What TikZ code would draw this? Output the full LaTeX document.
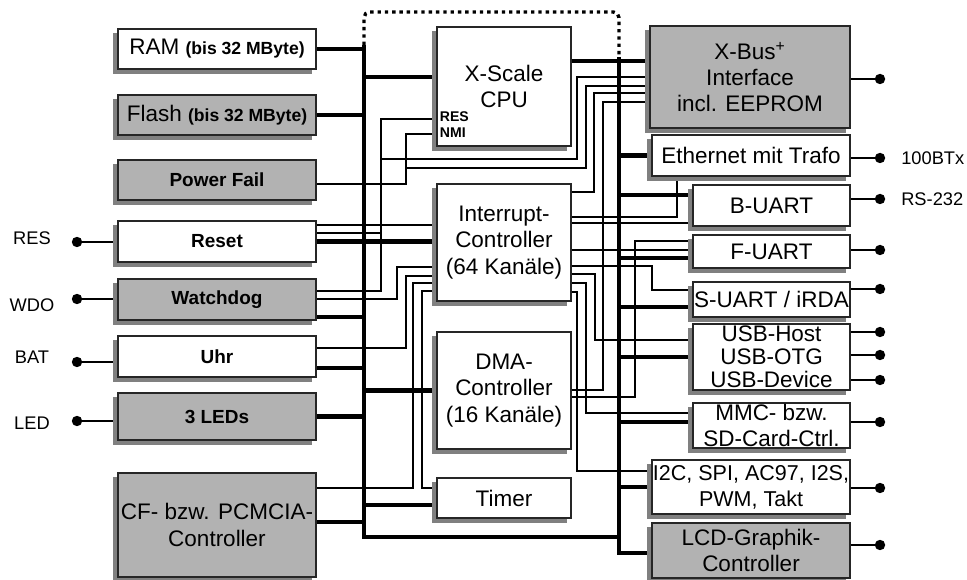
\documentclass[tikz,border=0pt]{standalone}
\usepackage{fontspec}
\setmainfont{Liberation Sans}
\usetikzlibrary{backgrounds}
\pgfdeclarelayer{shade}
\pgfsetlayers{background,shade,main}
\tikzset{
  xsbox/.style={draw=black!85, line width=0.8pt, fill=white, align=center, inner sep=1pt,
    font=\fontsize{16}{19}\selectfont},
  xsgray/.style={xsbox, fill=black!30},
  xsbold/.style={font=\fontsize{13.5}{15}\selectfont\bfseries},
  xsshadow/.style={fill=black!50},
  xsbus/.style={line width=3.5pt},
  xswire/.style={line width=1.2pt},
  xsdots/.style={line width=2.4pt, dash pattern=on 2.4pt off 2.8pt, rounded corners=4pt},
  xsdot/.style={circle, fill=black, inner sep=0pt, minimum size=2.6mm},
  xsport/.style={font=\fontsize{13}{15}\selectfont, inner sep=0pt},
  xspin/.style={font=\fontsize{10}{11}\selectfont\bfseries, inner sep=0pt, anchor=west}
}
\newcommand{\xssmall}{\fontsize{12.5}{14}\selectfont\bfseries}

\begin{document}
\begin{tikzpicture}[x=0.25mm, y=-0.25mm]
  \useasboundingbox (0,0) rectangle (967,580);

  % left column
  \node[xsbox, minimum width=49.5mm, minimum height=10mm] (ram) at (217,49) {RAM {\xssmall (bis 32 MByte)}};
  \node[xsgray, minimum width=49.5mm, minimum height=10mm] (flash) at (217,115) {Flash {\xssmall (bis 32 MByte)}};
  \node[xsgray, xsbold, minimum width=49.5mm, minimum height=10mm] (pwrfail) at (217,180) {Power Fail};
  \node[xsbox, xsbold, minimum width=49.5mm, minimum height=10.25mm] (reset) at (217,241.5) {Reset};
  \node[xsgray, xsbold, minimum width=49.5mm, minimum height=10.25mm] (wdog) at (217,299.5) {Watchdog};
  \node[xsbox, xsbold, minimum width=49.5mm, minimum height=10.25mm] (uhr) at (217,356.5) {Uhr};
  \node[xsgray, xsbold, minimum width=49.5mm, minimum height=11.75mm] (leds) at (217,416.5) {3 LEDs};
  \node[xsgray, minimum width=49.5mm, minimum height=26mm] (cfctl) at (217,525) {CF- bzw. PCMCIA-\\Controller};

  % middle column
  \node[xsbox, minimum width=33.5mm, minimum height=29.75mm] (cpu) at (504,86.5) {X-Scale\\CPU};
  \node[xspin] (respin) at ([xshift=0.8mm]cpu.west |- 0,117) {RES};
  \node[xspin] (nmipin) at ([xshift=0.8mm]cpu.west |- 0,133) {NMI};
  \node[xsbox, minimum width=33.5mm, minimum height=29.25mm] (irq) at (504,242.5) {Interrupt-\\Controller\\(64 Kanäle)};
  \node[xsbox, minimum width=33.5mm, minimum height=29.25mm] (dma) at (504,390.5) {DMA-\\Controller\\(16 Kanäle)};
  \node[xsbox, minimum width=33.5mm, minimum height=10mm] (timer) at (504,498) {Timer};

  % right column
  \node[xsgray, minimum width=50mm, minimum height=25.5mm, font=\fontsize{16}{18.5}\selectfont] (xbus) at (750,77) {X-Bus\textsuperscript{+}\\Interface\\incl. EEPROM};
  \node[xsbox, minimum width=49.5mm, minimum height=10.25mm] (ether) at (751,155.5) {Ethernet mit Trafo};
  \node[xsbox, minimum width=39.25mm, minimum height=10.25mm] (buart) at (771.5,205.5) {B-UART};
  \node[xsbox, minimum width=39.25mm, minimum height=8.25mm] (fuart) at (771.5,251.5) {F-UART};
  \node[xsbox, minimum width=39.25mm, minimum height=8.75mm, inner sep=0pt] (suart) at (771.5,299.5) {S-UART / iRDA};
  \node[xsbox, minimum width=39.25mm, minimum height=16.5mm, inner sep=0pt, font=\fontsize{16}{16.5}\selectfont] (usb) at (771.5,357) {USB-Host\\USB-OTG\\USB-Device};
  \node[xsbox, minimum width=39.25mm, minimum height=11.25mm, inner sep=0pt, font=\fontsize{16}{18}\selectfont] (mmc) at (771.5,425.5) {MMC- bzw.\\SD-Card-Ctrl.};
  \node[xsbox, minimum width=49.5mm, minimum height=13.5mm, inner sep=0pt, font=\fontsize{15.3}{18.5}\selectfont] (serio) at (751,487) {I2C, SPI, AC97, I2S,\\PWM, Takt};
  \node[xsgray, minimum width=49.5mm, minimum height=13.75mm] (lcd) at (751,550.5) {LCD-Graphik-\\Controller};

  % shadows behind the boxes
  \begin{pgfonlayer}{shade}
    \foreach \b in {ram,flash,pwrfail,reset,wdog,uhr,leds,cfctl,cpu,irq,dma,timer,
                    xbus,ether,buart,fuart,suart,usb,mmc,serio,lcd}
      \fill[xsshadow] ([shift={(-1.1mm,-1.1mm)}]\b.south west) rectangle ([shift={(-1.1mm,-1.1mm)}]\b.north east);
  \end{pgfonlayer}

  % external pins
  \node[xsdot] (resdot) at (77,242) {};
  \node[xsdot] (wdodot) at (77,299) {};
  \node[xsdot] (batdot) at (77,362) {};
  \node[xsdot] (leddot) at (77,421) {};
  \node[xsport] (reslbl) at (32,238) {RES};
  \node[xsport] (wdolbl) at (32,305) {WDO};
  \node[xsport] (batlbl) at (32,357) {BAT};
  \node[xsport] (ledlbl) at (32,423) {LED};

  \node[xsdot] (xbusdot) at (880,79) {};
  \node[xsdot] (etherdot) at (880,158) {};
  \node[xsdot] (buartdot) at (880,199) {};
  \node[xsdot] (fuartdot) at (880,250) {};
  \node[xsdot] (suartdot) at (880,289) {};
  \node[xsdot] (hostdot) at (880,332) {};
  \node[xsdot] (otgdot) at (880,355) {};
  \node[xsdot] (devdot) at (880,380) {};
  \node[xsdot] (mmcdot) at (880,422) {};
  \node[xsdot] (seriodot) at (880,488) {};
  \node[xsdot] (lcddot) at (880,545) {};
  \node[xsport, anchor=west] (etherlbl) at (901,158) {100BTx};
  \node[xsport, anchor=west] (buartlbl) at (901,199) {RS-232};

  % bus and wires
  \coordinate (lbtop) at (364,45);
  \coordinate (lbbot) at (364,537);
  \coordinate (rbtop) at (619,57);
  \coordinate (rbbot) at (619,553);
  \coordinate (nmij) at (406,168);
  \coordinate (resj) at (381,159);
  \coordinate (resk) at (381,233);

  \begin{scope}[on background layer]
    \draw[xsdots] (lbtop) |- (491,12) -| (rbtop);
    \draw[xsbus] (lbtop) -- (lbbot) -- (lbbot -| rbtop);
    \draw[xsbus] (rbtop) -- (rbbot) -- (rbbot -| lcd.west);

    \draw[xsbus] (ram.east) -- (ram.east -| lbtop);
    \draw[xsbus] (lbtop |- 0,77) -- (cpu.west |- 0,77);
    \draw[xsbus] (flash.east) -- (flash.east -| lbtop);
    \draw[xsbus] (reset.east) -- (reset.east -| irq.west);
    \draw[xsbus] (wdog.east |- 0,317) -- (lbtop |- 0,317);
    \draw[xsbus] (uhr.east |- 0,368) -- (lbtop |- 0,368);
    \draw[xsbus] (lbtop |- dma.west) -- (dma.west);
    \draw[xsbus] (leds.east) -- (leds.east -| lbtop);
    \draw[xsbus] (lbtop |- 0,505) -- (timer.west |- 0,505);
    \draw[xsbus] (cfctl.east |- 0,522) -- (lbtop |- 0,522);

    \draw[xsbus] (cpu.east |- 0,61) -- (xbus.west |- 0,61);
    \draw[xsbus] (rbtop |- ether.west) -- (ether.west);
    \draw[xsbus] (rbtop |- 0,195) -- (buart.west |- 0,195);
    \draw[xsbus] (rbtop |- 0,258) -- (fuart.west |- 0,258);
    \draw[xsbus] (rbtop |- 0,307) -- (suart.west |- 0,307);
    \draw[xsbus] (rbtop |- usb.west) -- (usb.west);
    \draw[xsbus] (rbtop |- 0,422) -- (mmc.west |- 0,422);
    \draw[xsbus] (rbtop |- serio.west) -- (serio.west);

    % left signal lines
    \draw[xswire] (pwrfail.east |- 0,184) -| (406,134) -- (cpu.west |- 0,134);
    \draw[xswire] (nmij) -| (586,86) -- (xbus.west |- 0,86);
    \draw[xswire] (cpu.west |- 0,119) -| (381,291) -- (wdog.east |- 0,291);
    \draw[xswire] (resj) -| (577,77) -- (xbus.west |- 0,77);
    \draw[xswire] (reset.east |- resk) -- (resk);
    \draw[xswire] (reset.east |- 0,225) -- (irq.west |- 0,225);
    \draw[xswire] (wdog.east |- 0,299) -| (397,267) -- (irq.west |- 0,267);
    \draw[xswire] (uhr.east |- 0,348) -| (406,276) -- (irq.west |- 0,276);
    \draw[xswire] (cfctl.east |- 0,488) -| (413,283) -- (irq.west |- 0,283);
    \draw[xswire] (irq.west |- 0,291) -| (422,488) -- (timer.west |- 0,488);

    % right signal lines
    \draw[xswire] (irq.east |- 0,192) -| (594,93) -- (xbus.west |- 0,93);
    \draw[xswire] (dma.east |- 0,390) -| (603,102) -- (xbus.west |- 0,102);
    \draw[xswire] (irq.east |- 0,217) -| (ether.south -| 677,0);
    \draw[xswire] (irq.east |- 0,223) -- (buart.west |- 0,223);
    \draw[xswire] (irq.east |- 0,250) -- (fuart.west |- 0,250);
    \draw[xswire] (irq.east |- 0,266) -| (652,290) -- (suart.west |- 0,290);
    \draw[xswire] (irq.east |- 0,274) -| (595,340) -- (usb.west |- 0,340);
    \draw[xswire] (irq.east |- 0,283) -| (586,413) -- (mmc.west |- 0,413);
    \draw[xswire] (irq.east |- 0,292) -| (577,471) -- (serio.west |- 0,471);
    \draw[xswire] (dma.east |- 0,397) -| (635,241) -- (fuart.west |- 0,241);

    % pins
    \draw[xswire] (resdot) -- (resdot -| reset.west);
    \draw[xswire] (wdodot) -- (wdodot -| wdog.west);
    \draw[xswire] (batdot) -- (batdot -| uhr.west);
    \draw[xswire] (leddot) -- (leddot -| leds.west);
    \draw[xswire] (xbusdot) -- (xbusdot -| xbus.east);
    \draw[xswire] (etherdot) -- (etherdot -| ether.east);
    \draw[xswire] (buartdot) -- (buartdot -| buart.east);
    \draw[xswire] (fuartdot) -- (fuartdot -| fuart.east);
    \draw[xswire] (suartdot) -- (suartdot -| suart.east);
    \draw[xswire] (hostdot) -- (hostdot -| usb.east);
    \draw[xswire] (otgdot) -- (otgdot -| usb.east);
    \draw[xswire] (devdot) -- (devdot -| usb.east);
    \draw[xswire] (mmcdot) -- (mmcdot -| mmc.east);
    \draw[xswire] (seriodot) -- (seriodot -| serio.east);
    \draw[xswire] (lcddot) -- (lcddot -| lcd.east);
  \end{scope}
\end{tikzpicture}
\end{document}
